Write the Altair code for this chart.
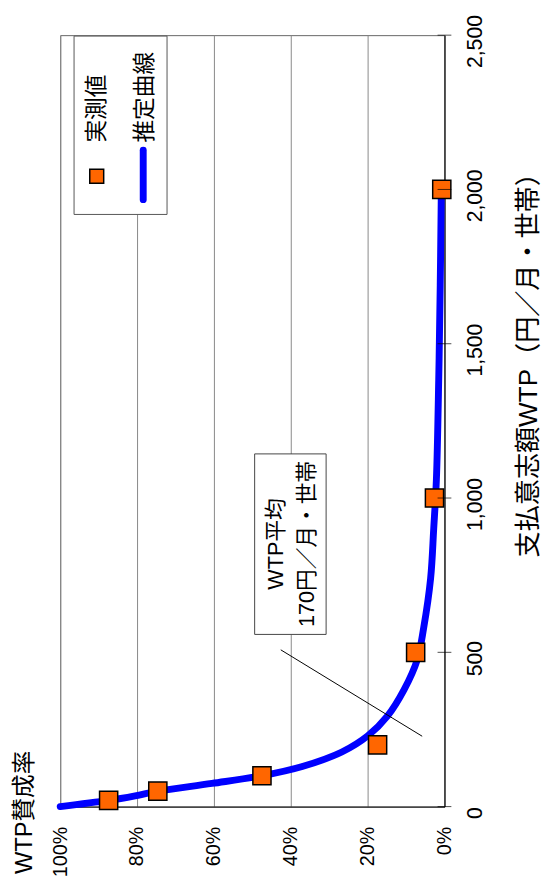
import altair as alt
import pandas as pd

# ---- data ----
# measured points (実測値)
obs_amount = [20, 50, 100, 200, 500, 1000, 2000]
obs_rate = [87.4, 74.6, 47.5, 17.4, 7.5, 2.6, 0.7]

# estimated curve (推定曲線)
curve_amount = [0, 20, 35, 50, 75, 100, 130, 177, 230, 294, 379, 475, 580, 740, 900, 1060, 1380, 1690, 1960, 2000]
curve_rate = [100, 87.5, 80.5, 74.6, 60.5, 47.5, 37, 26.7, 19.9, 14.8, 10.5, 7.1, 5.4, 3.6, 2.8, 2.1, 1.5, 1.1, 0.85, 0.8]

# axis ticks
amount_ticks = [0, 500, 1000, 1500, 2000, 2500]
rate_ticks = [0, 20, 40, 60, 80, 100]

# annotation (WTP mean)
note_lines = ["WTP平均", "170円／月・世帯"]
note_rate = [43.8, 35.7]
note_amount = [851, 851]
note_box_rate = [30.8, 49.4]
note_box_amount = [558, 1143]
leader_rate = [42.6, 5.8]
leader_amount = [508, 228]

# legend
legend_labels = ["実測値", "推定曲線"]
legend_label_rate = [90.3, 78.0]
legend_label_amount = [2152, 2152]
legend_box_rate = [72.2, 96.4]
legend_box_amount = [1919, 2497]
legend_marker_rate = [90.5]
legend_marker_amount = [2043]
legend_line_rate = [78.4, 78.4]
legend_line_amount = [1967, 2127]

FONT = "Liberation Sans, Noto Sans CJK JP"
JP = "Noto Sans CJK JP"

obs_df = pd.DataFrame({"amount": obs_amount, "rate": obs_rate})
curve_df = pd.DataFrame({"amount": curve_amount, "rate": curve_rate})
tick_df = pd.DataFrame({"amount": amount_ticks, "rate": [0] * len(amount_ticks)})
note_df = pd.DataFrame({"label": note_lines, "rate": note_rate, "amount": note_amount})
note_box_df = pd.DataFrame({"rate": [note_box_rate[0]], "r2": [note_box_rate[1]],
                            "amount": [note_box_amount[0]], "a2": [note_box_amount[1]]})
leader_df = pd.DataFrame({"rate": [leader_rate[0]], "r2": [leader_rate[1]],
                          "amount": [leader_amount[0]], "a2": [leader_amount[1]]})
legend_df = pd.DataFrame({"label": legend_labels, "rate": legend_label_rate, "amount": legend_label_amount})
legend_box_df = pd.DataFrame({"rate": [legend_box_rate[0]], "r2": [legend_box_rate[1]],
                              "amount": [legend_box_amount[0]], "a2": [legend_box_amount[1]]})
legend_marker_df = pd.DataFrame({"rate": legend_marker_rate, "amount": legend_marker_amount})
legend_line_df = pd.DataFrame({"rate": legend_line_rate, "amount": legend_line_amount})

xs = alt.Scale(domain=[0, 100], reverse=True)
ys = alt.Scale(domain=[0, 2500])

x_axis = alt.Axis(
    orient="bottom", values=rate_ticks, labelExpr="datum.value + '%'",
    labelAngle=270, labelAlign="right", labelBaseline="middle", labelPadding=20,
    labelFont=FONT, labelFontSize=20, labelColor="black", labelFlush=False, labelOverlap=False,
    ticks=False, tickSize=0, grid=True, gridColor="#888888", gridWidth=1,
    domainColor="black", domainWidth=1,
    title="WTP賛成率", titleFont=FONT, titleFontSize=24, titleFontWeight="normal", titleColor="black",
    titleAngle=270, titleAlign="left", titleBaseline="middle", titleX=-36, titleY=68,
)
y_axis = alt.Axis(
    orient="right", values=amount_ticks, labelExpr="format(datum.value, ',')",
    labelAngle=270, labelAlign="center", labelBaseline="middle", labelPadding=32, labelOffset=6,
    labelFont=FONT, labelFontSize=21.5, labelColor="black", labelFlush=False, labelOverlap=False,
    ticks=False, tickSize=0, grid=False, domainColor="black", domainWidth=1,
    title="支払意志額WTP（円／月・世帯）", titleFont=FONT, titleFontSize=26.5, titleFontWeight="normal",
    titleColor="black", titleAngle=270, titleAlign="center", titleBaseline="middle",
    titleX=85, titleY=328,
)


def X(field="rate"):
    return alt.X(field, type="quantitative", scale=xs, axis=x_axis)


def Y(field="amount"):
    return alt.Y(field, type="quantitative", scale=ys, axis=y_axis)


legend_box = alt.Chart(legend_box_df).mark_rect(fill="white", stroke="#555555", strokeWidth=1).encode(
    x=X(), x2="r2", y=Y(), y2="a2")

note_box = alt.Chart(note_box_df).mark_rect(fill="white", stroke="#444444", strokeWidth=1).encode(
    x=X(), x2="r2", y=Y(), y2="a2")

curve = alt.Chart(curve_df).mark_line(color="#0000FF", strokeWidth=7, interpolate="catmull-rom",
                                      strokeCap="round").encode(
    x=X(), y=Y(), order=alt.Order("amount", sort="ascending"))

leader = alt.Chart(leader_df).mark_rule(color="black", strokeWidth=1).encode(
    x=X(), x2="r2", y=Y(), y2="a2")

points = alt.Chart(obs_df).mark_point(shape="square", filled=True, size=340, fill="#FF6600",
                                      stroke="black", strokeWidth=1.5, opacity=1).encode(
    x=X(), y=Y())

ticks = alt.Chart(tick_df).mark_tick(orient="horizontal", size=14, thickness=1, color="black").encode(
    x=X(), y=Y())

note_text = alt.Chart(note_df).mark_text(angle=270, align="center", baseline="middle",
                                         font=FONT, fontSize=22, color="black").encode(
    x=X(), y=Y(), text="label")

legend_marker = alt.Chart(legend_marker_df).mark_point(shape="square", filled=True, size=200,
                                                       fill="#FF6600", stroke="black", strokeWidth=1.5,
                                                       opacity=1).encode(x=X(), y=Y())

legend_line = alt.Chart(legend_line_df).mark_line(color="#0000FF", strokeWidth=7, strokeCap="round").encode(
    x=X(), y=Y(), order=alt.Order("amount"))

legend_text = alt.Chart(legend_df).mark_text(angle=270, align="left", baseline="middle",
                                             font=JP, fontSize=23, color="black").encode(
    x=X(), y=Y(), text="label")

chart = alt.layer(
    legend_box, note_box, curve, leader, points, ticks, note_text,
    legend_marker, legend_line, legend_text,
).properties(
    width=390, height=783,
    autosize=alt.AutoSizeParams(type="none"),
    padding={"left": 53, "top": 21, "right": 99, "bottom": 72},
    background="white",
).configure_view(stroke="#666666", strokeWidth=1)

chart.save("out.html", embed_options={"renderer": "svg", "actions": False})
